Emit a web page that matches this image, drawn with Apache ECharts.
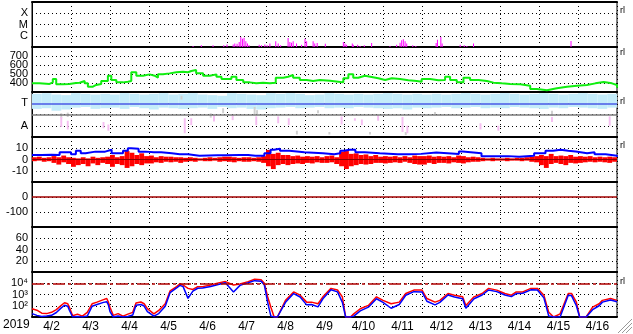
<!DOCTYPE html>
<html><head><meta charset="utf-8">
<script src="https://cdn.jsdelivr.net/npm/echarts@6/dist/echarts.min.js"></script>
<style>html,body{margin:0;padding:0;background:#fff}#c{width:633px;height:334px}</style>
</head><body><div id="c"></div>
<script>
// ---- categories / tick labels ----
const dayLabels = ['4/2','4/3','4/4','4/5','4/6','4/7','4/8','4/9','4/10','4/11','4/12','4/13','4/14','4/15','4/16'];
const yearLabel = '2019';
const xrayTickLabels = {1:'C', 2:'M', 3:'X'};
const imfTickLabels = {270:'T', 90:'A'};
const fluxTickLabels = {100:'10\u00B2', 1000:'10\u00B3', 10000:'10\u2074'};
const unitMark = 'rl';

// ---- X-ray flux (hour from start, W/m2) ----
const xray = [[99.1,1.2e-7],[104.2,1.4e-7],[111.4,1.4e-7],[118,1.4e-7],[120,1.7e-7],[123.8,1.7e-7],[124.8,2.1e-7],[126.2,1.9e-7],[127.5,2.8e-7],[128.5,7.8e-7],[129.5,5.5e-7],[130.5,6.8e-7],[131.6,3.2e-7],[132.6,2.0e-7],[133.6,1.4e-7],[139.8,1.6e-7],[141.2,1.4e-7],[143.3,1.7e-7],[144.7,1.4e-7],[146.4,2.1e-7],[150,3.2e-7],[151.5,2.0e-7],[153,1.4e-7],[157.6,6.3e-7],[158.7,2.8e-7],[159.7,2.4e-7],[160.7,3.2e-7],[162.8,2.0e-7],[165.9,1.6e-7],[168,5.5e-7],[169,3.2e-7],[173,3.2e-7],[174,2.0e-7],[175.5,2.3e-7],[180.5,1.9e-7],[191.6,2.8e-7],[192.6,2.0e-7],[193.6,1.6e-7],[197.1,2.1e-7],[197.7,1.6e-7],[200.4,1.6e-7],[201.9,1.2e-7],[204.5,1.4e-7],[209,2.3e-7],[220.3,1.2e-7],[224.4,1.6e-7],[226.5,2.4e-7],[227.5,3.9e-7],[228.5,4.8e-7],[229.6,3.2e-7],[230.6,2.0e-7],[234.3,1.4e-7],[236.2,1.2e-7],[248.7,2.3e-7],[249.5,4.5e-7],[251.6,7.8e-7],[252.4,2.0e-7],[263.5,1.6e-7],[266,1.4e-7],[267.6,1.2e-7],[271.7,2.0e-7],[331.7,3.4e-7]];

// ---- Solar wind speed (hour, km/s) ----
const speed = [[0,396],[4.6,390],[10.8,407],[12.8,444],[14.9,385],[19,390],[23,400],[27,403],[29.3,422],[32.4,396],[34.4,359],[37.5,378],[39.5,390],[42.6,422],[46.7,481],[48.8,433],[51.9,407],[56,415],[59,422],[61.1,519],[64.2,481],[68.3,496],[72.4,481],[75.5,459],[77.5,496],[80.6,507],[84.7,519],[88.8,526],[93,519],[96,533],[98,544],[101,507],[105.3,481],[109.4,496],[113.5,470],[116.6,444],[120.7,444],[122.7,470],[125.8,433],[130,407],[134,396],[138,404],[142.2,396],[146.4,404],[150,459],[154.6,470],[157.6,489],[160.7,459],[164.8,433],[169,422],[173,433],[177.2,425],[183.4,415],[188.5,407],[191.6,452],[194.7,496],[197.7,459],[200.8,481],[204.9,467],[209,452],[213.1,433],[217.3,452],[221.4,444],[226.5,430],[231.6,422],[236.8,415],[239.8,444],[245,430],[250.1,433],[254.2,470],[257.3,433],[261.4,407],[265.5,459],[269.6,433],[274.8,422],[279.9,404],[284,396],[289.1,389],[294.3,385],[300.4,370],[306.6,333],[310.7,319],[316.9,341],[323,359],[329.2,370],[335.4,378],[341.5,396],[346.7,411],[351.8,396],[356.9,378],[360,348]];

// ---- IMF sector (deg): cyan band per 6 h [lo, hi], gray and pink streaks [hour, lo, hi] ----
const sectorLo = [225,230,210,220,235,240,225,230,235,225,240,230,220,235,230,225,230,235,225,240,230,235,225,220,230,235,240,230,235,240,230,235,230,240,235,230,225,230,220,235,230,235,240,230,235,240,230,235,230,240,235,230,225,235,230,240,235,230,225,235];
const sectorHi = [345,350,340,335,350,345,340,345,340,350,345,340,345,350,340,345,350,340,335,330,350,345,340,335,350,345,350,345,335,340,350,345,340,345,340,345,350,345,340,345,340,345,340,345,350,345,340,345,350,345,340,345,350,345,340,345,350,345,340,345];
const grayMarks = [[18,150,190],[22,160,195],[92,300,330],[110,155,190],[117.6,190,230],[137,175,240],[138.5,180,215],[163,20,50],[176,190,215],[183,20,40],[208,20,40],[230,15,40],[248,180,200],[320,170,210]];
const pinkMarks = [[18,80,160],[22,60,130],[44,70,120],[47,50,100],[94,30,150],[98,95,150],[112,125,175],[123.5,135,175],[138,95,165],[151.5,110,165],[158,95,150],[190.5,100,165],[198.7,130,150],[203,95,140],[213,130,175],[228,40,160],[231,30,90],[276,60,110],[287,50,90],[320,120,160],[355.5,90,165]];

// ---- IMF Bt (hour, nT) and Bz range per 3 h bin ----
const bt = [[0,4],[6,4.2],[12,4],[17,6.5],[21,6.5],[24,4.6],[27,7.7],[30,5.5],[33,7],[39,7],[45,7],[46,8.6],[49,5.5],[56,7.7],[59,10],[61,9.5],[65.6,7],[70,6.5],[75,6.5],[79.5,5.5],[86,4.6],[91,4.6],[96,3.4],[103,3.7],[114,3.7],[119,4],[128,4],[133,3.4],[137.5,3.4],[143,5.5],[146.8,8.6],[149,9.5],[152.6,7.7],[158.4,6.5],[167.6,5.5],[179,4.6],[186,5.5],[189.7,7.7],[192,8.6],[195.5,8.6],[199,6.5],[204.8,5.5],[214,4.6],[225,4.6],[232,5],[239.5,6.2],[248.8,4.9],[262.7,7.1],[265,5.5],[276.6,3],[290.6,3],[293,2.5],[299.8,3.4],[309,5.5],[316,7.7],[320.7,8.6],[325.3,7.7],[330,7.1],[334.6,5.5],[341.6,6.5],[346.2,4.6],[353,3.4],[360,2.5]];
const bzHi = [2,2.5,1.5,2, 3,2,3.5,2, 1.5,1,2,1, 2.5,1.5,2,2.5, 4,2,3,7.5, 6,4,5.5,3, 3.5,2,3,2.5, 2.5,2,2,1.5, 2,1.5,1,1.5, 2,1.5,2,2.5, 2.5,2,1.5,2, 2,1.5,2,3, 8.5,5,6,4, 4,3,3.5,2.5, 3,2.5,3,2, 3,3.5,2,7, 7.5,5,5.5,4, 4.5,3,4,2.5, 3,2.5,3,2, 3,2,3.5,3, 3,3.5,2.5,3, 2.5,3,2,3.5, 3,2,2.5,2, 1.5,1,1.5,1, 1,1.5,1,1.5, 1.5,2,2.5,3, 4,3,5,3, 3.5,3,4,2.5, 3,2.5,3,2, 2.5,2,2.5,2];
const bzLo = [-1.5,-1,-2,-1.5, -3,-4.5,-2.5,-4, -6.5,-5,-4,-6, -3.5,-5,-3,-4, -6.5,-4,-5,-7.5, -6,-4,-5,-3.5, -3.5,-2.5,-3,-2, -2.5,-2,-3,-2, -1.5,-2,-1,-1.5, -1.5,-1,-2,-1.5, -2,-2.5,-1.5,-2, -2,-1.5,-2,-3, -6,-8.5,-5,-4, -5,-4,-3.5,-4, -3,-3.5,-2.5,-3, -3,-2.5,-4,-6, -8.5,-6,-5,-4, -4.5,-4,-3,-3, -3.5,-3,-2.5,-3, -2,-3,-4,-4.5, -4.5,-3,-4,-3, -3,-3.5,-2.5,-3, -3.5,-2.5,-2,-2, -1.5,-1,-1.5,-1, -1,-1.5,-1,-1, -1.5,-1,-2,-2.5, -5,-7.5,-4,-3, -4,-5,-3,-3.5, -3,-2.5,-2,-2.5, -2,-2.5,-3,-2];

// ---- Electron flux (hour, flux) two channels ----
const fluxRed = [[0,55],[3,40],[6,22],[9,20],[12,26],[15,45],[18,110],[20,185],[22,150],[23,75],[25,13],[28,18],[31,12],[34,26],[37,150],[40,210],[44,350],[46,440],[47,210],[48,75],[50,14],[53,20],[56,12],[59,18],[62,26],[64,175],[67,215],[69,150],[71,55],[75,19],[78,38],[82,150],[85,2100],[89,5000],[91,8700],[93,7000],[96,3500],[99,2800],[102,5000],[105,5000],[110,7000],[114,10000],[119,14000],[124,7000],[128,8700],[133,14000],[137,23000],[141,20000],[143,10000],[145,630],[147,75],[149,10],[151,10],[156,300],[161,1700],[165,870],[169,210],[172,210],[176,150],[179,620],[184,3500],[188,2500],[191,620],[193,10],[196,10],[198,19],[202,54],[207,107],[212,620],[216,300],[221,150],[226,210],[230,1230],[235,2450],[240,2450],[243,440],[248,210],[251,300],[256,1230],[260,870],[265,620],[267,107],[272,620],[277,1230],[281,3500],[286,2450],[291,1230],[295,870],[298,1700],[302,1700],[307,3500],[311,3500],[315,870],[318,26],[321,10],[325,19],[330,1230],[332,1230],[335,210],[337,10],[341,10],[345,75],[349,150],[351,300],[356,440],[360,300]];
const fluxBlue = [[0,20],[3,14],[6,11],[9,12],[12,14],[15,25],[18,65],[20,110],[22,90],[23,40],[25,10],[28,11],[31,10],[34,12],[37,90],[40,130],[44,200],[46,230],[47,120],[48,30],[50,10],[53,12],[56,10],[59,11],[62,15],[64,110],[67,130],[69,95],[71,30],[75,12],[78,20],[82,90],[85,1500],[89,3800],[91,6500],[93,5000],[96,450],[99,2000],[102,3600],[105,3700],[110,5200],[114,7500],[119,11000],[124,1700],[128,6500],[133,11000],[137,17000],[141,15000],[143,7000],[145,200],[147,12],[149,10],[151,10],[156,200],[161,1200],[165,600],[169,120],[172,130],[176,80],[179,420],[184,2600],[188,1700],[191,200],[193,10],[196,10],[198,12],[202,35],[207,75],[212,420],[216,200],[221,60],[226,130],[230,850],[235,1800],[240,1700],[243,250],[248,120],[251,200],[256,900],[260,600],[265,420],[267,60],[272,420],[277,900],[281,2500],[286,1800],[291,900],[295,650],[298,1200],[302,1300],[307,2600],[311,2500],[315,500],[318,12],[321,10],[325,10],[330,850],[332,800],[335,100],[337,10],[341,10],[345,45],[349,100],[351,210],[356,320],[360,230]];

// ---- build ----
const FONT = '"Liberation Sans", "DejaVu Sans"';
const N = 7, TOP0 = 2, PH = 45;
const grids = [], xAxes = [], yAxes = [];
const dotted = {color:'#000', type:[1,3], width:1};
for (let i = 0; i < N; i++) {
  grids.push({left:32, width:585, top:TOP0 + PH*i, height:PH, show:true, borderColor:'#000', borderWidth:1, backgroundColor:'#fff'});
  xAxes.push({type:'value', gridIndex:i, min:0, max:360, interval:24, position:'bottom',
    axisLine:{show:true, onZero:false, lineStyle:{color:'#000', width:2}}, axisTick:{show:false}, axisLabel:{show:false},
    splitLine:{show:true, lineStyle:dotted}});
}
xAxes.push({type:'category', gridIndex:6, position:'bottom', data:dayLabels, boundaryGap:true,
  axisLine:{show:false}, axisTick:{show:false}, splitLine:{show:false},
  axisLabel:{interval:0, color:'#000', fontSize:12, fontFamily:FONT, margin:4}});
xAxes.push({type:'value', gridIndex:0, position:'top', min:0, max:360,
  axisLine:{show:true, onZero:false, lineStyle:{color:'#000', width:2}}, axisTick:{show:false}, axisLabel:{show:false}, splitLine:{show:false}});

function yAx(i, extra, fmt) {
  return Object.assign({gridIndex:i, axisLine:{show:true, onZero:false, lineStyle:{color:'#000', width:1}}, axisTick:{show:false},
    axisLabel:{color:'#000', fontSize:11, fontFamily:FONT, margin:4, formatter:fmt, showMinLabel:true, showMaxLabel:true},
    splitLine:{show:true, lineStyle:dotted}}, extra);
}
yAxes.push(yAx(0, {type:'value', min:0, max:4, interval:1}, v => xrayTickLabels[v] || ''));
yAxes.push(yAx(1, {type:'value', min:300, max:800, interval:100}, v => (v >= 400 && v <= 700) ? String(v) : ''));
yAxes.push(yAx(2, {type:'value', min:0, max:360, interval:90}, v => imfTickLabels[v] || ''));
yAxes.push(yAx(3, {type:'value', min:-20, max:20, interval:10}, v => (v >= -10 && v <= 10) ? String(v) : ''));
yAxes.push(yAx(4, {type:'value', min:-200, max:100, interval:100}, v => (v === 0 || v === -100) ? String(v) : ''));
yAxes.push(yAx(5, {type:'value', min:0, max:80, interval:20}, v => (v >= 20 && v <= 60) ? String(v) : ''));
yAxes.push(yAx(6, {type:'log', logBase:10, min:10, max:100000}, v => fluxTickLabels[Math.round(v)] || ''));

function bandRender(color, widthH) {
  return function (params, api) {
    const x = api.value(0), lo = api.value(1), hi = api.value(2);
    const a = api.coord([x, hi]), b = api.coord([x, lo]);
    const w = Math.max(1, api.size([widthH, 0])[0]);
    return {type:'rect', shape:{x:a[0] - w/2, y:a[1], width:w, height:b[1] - a[1]}, style:{fill:color}};
  };
}
const sectorData = sectorLo.map((lo, i) => [i*6 + 3, lo, sectorHi[i]]);
const bzData = bzHi.map((hi, i) => [i*3 + 1.5, bzLo[i], hi]);

function refLine(xi, yi, val, color, width, type) {
  return {type:'line', xAxisIndex:xi, yAxisIndex:yi, data:[], silent:true,
    markLine:{silent:true, symbol:'none', animation:false, label:{show:false}, lineStyle:{color:color, width:width, type:type}, data:[{yAxis:val}]}};
}

const series = [
  {type:'bar', xAxisIndex:0, yAxisIndex:0, barWidth:1, itemStyle:{color:'#ff00ff'}, data:xray.map(d => [d[0], Math.log10(d[1]) + 7])},
  {type:'line', xAxisIndex:1, yAxisIndex:1, step:'end', showSymbol:false, lineStyle:{color:'#10ee10', width:2}, data:speed},
  {type:'custom', xAxisIndex:2, yAxisIndex:2, renderItem:bandRender('#c4ecfa', 6), data:sectorData, encode:{x:0, y:[1,2]}},
  {type:'custom', xAxisIndex:2, yAxisIndex:2, renderItem:bandRender('#d0d0d0', 1.2), data:grayMarks, encode:{x:0, y:[1,2]}},
  {type:'custom', xAxisIndex:2, yAxisIndex:2, renderItem:bandRender('#f6bff2', 1.2), data:pinkMarks, encode:{x:0, y:[1,2]}},
  refLine(2, 2, 270, '#4a5ae6', 1.5, 'solid'),
  refLine(2, 2, 180, '#7a7a7a', 1.5, 'solid'),
  refLine(3, 3, 0, '#8a0000', 1, 'solid'),
  {type:'custom', xAxisIndex:3, yAxisIndex:3, renderItem:bandRender('#ff0000', 3), data:bzData, encode:{x:0, y:[1,2]}},
  {type:'line', xAxisIndex:3, yAxisIndex:3, step:'end', showSymbol:false, lineStyle:{color:'#0000ff', width:2}, data:bt},
  refLine(4, 4, 0, '#a00000', 1.5, 'solid'),
  refLine(6, 6, 10000, '#b00000', 1.5, [12,3,3,3]),
  {type:'line', xAxisIndex:6, yAxisIndex:6, showSymbol:false, lineStyle:{color:'#ff0000', width:1.5}, data:fluxRed},
  {type:'line', xAxisIndex:6, yAxisIndex:6, showSymbol:false, lineStyle:{color:'#0000ff', width:1.5}, data:fluxBlue}
];

const graphic = [
  {type:'text', left:3, top:319, style:{text:yearLabel, fill:'#000', font:'12px ' + FONT}},
  {type:'text', left:620, top:6, style:{text:unitMark, fill:'#000', font:'9px ' + FONT}},
  {type:'text', left:620, top:48, style:{text:unitMark, fill:'#000', font:'9px ' + FONT}},
  {type:'text', left:620, top:97, style:{text:unitMark, fill:'#000', font:'9px ' + FONT}},
  {type:'text', left:620, top:141, style:{text:unitMark, fill:'#000', font:'9px ' + FONT}},
  {type:'text', left:620, top:277, style:{text:unitMark, fill:'#000', font:'9px ' + FONT}},
  {type:'line', shape:{x1:618, y1:333, x2:632, y2:319}, style:{stroke:'#999', lineWidth:1}},
  {type:'line', shape:{x1:622, y1:333, x2:632, y2:323}, style:{stroke:'#999', lineWidth:1}},
  {type:'line', shape:{x1:626, y1:333, x2:632, y2:327}, style:{stroke:'#999', lineWidth:1}}
];

const chart = echarts.init(document.getElementById('c'), null, {renderer:'canvas'});
chart.setOption({animation:false, backgroundColor:'#fff', grid:grids, xAxis:xAxes, yAxis:yAxes, series:series, graphic:graphic});
</script>
</body></html>
